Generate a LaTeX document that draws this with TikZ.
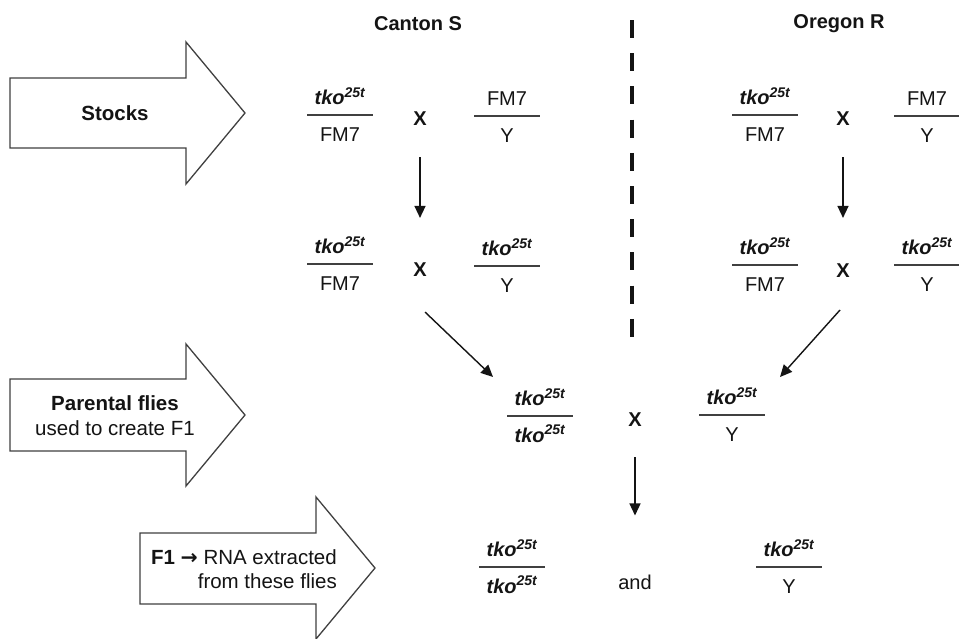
\documentclass[tikz,border=0pt]{standalone}
\usepackage{fontspec}
\setmainfont{Liberation Sans}
\newfontfamily\symfont{DejaVu Sans}
\usetikzlibrary{arrows.meta,positioning}
\definecolor{ink}{HTML}{141414}
\definecolor{linegray}{HTML}{404040}
\newcommand\tko{\textbf{\textit{tko\textsuperscript{25t}}}}
\newcommand\gen[5]{%
  \node[fl] (#1) at (#2,#3) {};
  \node[numtxt, above=9pt of #1] (#1n) {#4};
  \node[dentxt, below=10pt of #1] (#1d) {#5};
}
\tikzset{
  fl/.style={minimum width=66pt, minimum height=2pt, inner sep=0pt, fill=linegray},
  numtxt/.style={inner sep=0pt, text height=15pt, text depth=0pt},
  dentxt/.style={inner sep=0pt, text height=15pt, text depth=0pt},
  cross/.style={inner sep=0pt, font=\fontsize{20}{24}\selectfont\bfseries},
  arr/.style={-{Triangle[length=12pt,width=11pt]}, line width=1.4pt, draw=ink},
  bigarrow/.style={draw=linegray, line width=1.3pt, fill=white, line join=miter},
  head/.style={inner sep=0pt, font=\fontsize{20}{24}\selectfont\bfseries},
  armtext/.style={inner sep=0pt, align=center, font=\fontsize{20.5}{25}\selectfont},
}
\begin{document}
\begin{tikzpicture}[x=1pt, y=-1pt, font=\fontsize{20}{24}\selectfont, text=ink]
\clip (0,0) rectangle (959,638);
\fill[white] (0,0) rectangle (959,638);

% big arrows
\draw[bigarrow] (10,78) -- (186,78) -- (186,42) -- (245,113) -- (186,184) -- (186,148) -- (10,148) -- cycle;
\node[armtext] (stocks) at (115,113) {\textbf{Stocks}};

\draw[bigarrow] (10,379) -- (186,379) -- (186,344) -- (245,415) -- (186,486) -- (186,451) -- (10,451) -- cycle;
\node[armtext] (parental) at (115,416) {\textbf{Parental flies}\\used to create F1};

\draw[bigarrow] (140,533) -- (316,533) -- (316,497) -- (375,568) -- (316,639) -- (316,604) -- (140,604) -- cycle;
\node[armtext, align=right, anchor=east, font=\fontsize{20.5}{23.5}\selectfont] (f1text) at (337,569)
  {\textbf{F1 {\symfont\bfseries →}} RNA extracted\\from these flies};

% headings
\node[head] (canton) at (418,24) {Canton S};
\node[head] (oregon) at (839,24) {Oregon R};

% divider
\coordinate (dtop) at (632,20);
\coordinate (dbot) at (632,340);
\draw[line width=4.5pt, ink, dash pattern=on 18pt off 15.2pt] (dtop) -- (dbot);

% Canton S
\gen{cs1l}{340}{115}{\tko}{FM7}
\node[cross] (cx1) at (420,119) {X};
\gen{cs1r}{507}{116}{FM7}{Y}
\gen{cs2l}{340}{264}{\tko}{FM7}
\node[cross] (cx2) at (420,270) {X};
\gen{cs2r}{507}{266}{\tko}{Y}
\draw[arr, shorten <=31pt, shorten >=45pt] (cx1) -- (cx2);

% Oregon R
\gen{or1l}{765}{115}{\tko}{FM7}
\node[cross] (ox1) at (843,119) {X};
\gen{or1r}{927}{116}{FM7}{Y}
\gen{or2l}{765}{265}{\tko}{FM7}
\node[cross] (ox2) at (843,271) {X};
\gen{or2r}{927}{265}{\tko}{Y}
\draw[arr, shorten <=31pt, shorten >=46pt] (ox1) -- (ox2);

% parental cross
\gen{p3l}{540}{416}{\tko}{\tko}
\node[cross] (x3) at (635,420) {X};
\gen{p3r}{732}{415}{\tko}{Y}

\coordinate (d1s) at (425,312);
\coordinate (d1e) at (493,377);
\draw[arr] (d1s) -- (d1e);
\coordinate (d2s) at (840,310);
\coordinate (d2e) at (780,377);
\draw[arr] (d2s) -- (d2e);

% F1
\gen{f4l}{512}{567}{\tko}{\tko}
\node[inner sep=0pt] (and) at (635,582) {and};
\gen{f4r}{789}{567}{\tko}{Y}
\draw[arr, shorten <=30pt, shorten >=59pt] (x3) -- (and);
\end{tikzpicture}
\end{document}
